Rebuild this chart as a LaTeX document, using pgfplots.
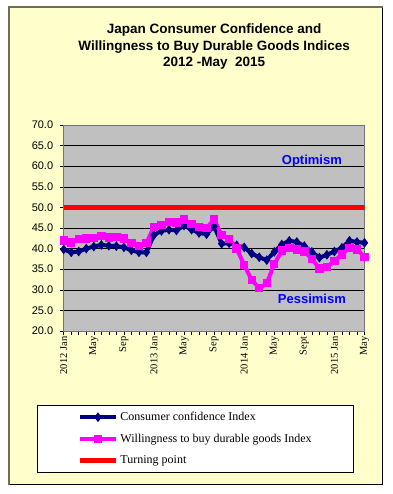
\documentclass[border=0pt]{standalone}
\usepackage{fontspec}
\setmainfont{Liberation Sans}
\newfontfamily\timesf{Liberation Serif}
\usepackage{pgfplots}
\usepackage{pgfplotstable}
\pgfplotsset{compat=1.18}
\definecolor{bgyel}{HTML}{FFFFCC}
\definecolor{plotgray}{HTML}{C0C0C0}
\definecolor{frameol}{HTML}{6E6E50}
\definecolor{navyc}{HTML}{000080}
\definecolor{magc}{HTML}{FF00FF}
\definecolor{txtblue}{HTML}{0000FF}

\pgfplotstableread{
x cc wb
0 39.8 42.0
1 39.1 41.5
2 39.3 42.3
3 40.0 42.5
4 40.5 42.6
5 40.9 43.0
6 40.7 42.7
7 40.6 42.8
8 40.3 42.5
9 39.6 41.4
10 39.1 40.7
11 39.1 41.3
12 43.3 45.3
13 44.3 45.7
14 44.6 46.4
15 44.4 46.3
16 45.6 47.1
17 44.6 46.0
18 43.8 45.3
19 43.5 45.0
20 45.4 47.1
21 41.2 43.3
22 41.3 42.4
23 40.8 40.0
24 40.3 36.0
25 38.8 32.4
26 37.9 30.4
27 37.2 31.6
28 39.2 36.2
29 41.0 39.5
30 41.9 40.2
31 41.6 39.8
32 40.6 39.3
33 39.2 37.5
34 37.8 35.2
35 38.5 35.5
36 39.3 37.0
37 40.2 38.6
38 41.9 40.2
39 41.6 39.8
40 41.4 38.0
}\datatab

\begin{document}
\begin{tikzpicture}[x=1pt,y=1pt]
\path[use as bounding box] (0,0) rectangle (392,-494);
\fill[white] (0,0) rectangle (392,-494);
\fill[bgyel] (8.5,-7.5) rectangle (382.5,-484.5);
\draw[black, line width=1pt] (8.5,-484.5) -- (382.5,-484.5) -- (382.5,-7.5);
\draw[frameol, line width=2pt] (8.5,-484.5) -- (8.5,-7.5) -- (382.5,-7.5);
\begin{axis}[
  at={(63.7pt,-331pt)}, anchor=south west,
  width=300.8pt, height=206pt, scale only axis,
  xmin=0, xmax=40, ymin=20, ymax=70,
  axis background/.style={fill=plotgray},
  axis line style={draw=gray!90!black, line width=0.8pt},
  ymajorgrids, grid style={black, line width=0.6pt},
  xtick={0,4,...,40},
  minor xtick={0,...,40},
  xticklabels={2012 Jan,May,Sep,2013 Jan,May,Sep,2014 Jan,May,Sept,2015 Jan,May},
  x tick label style={rotate=90, anchor=east, font=\timesf\fontsize{10.5}{12}\selectfont, inner sep=1.5pt},
  ytick={20,25,...,70},
  y tick label style={font=\fontsize{11}{12}\selectfont, xshift=-3pt},
  yticklabel style={/pgf/number format/.cd, fixed, fixed zerofill, precision=1},
  /pgf/number format/assume math mode=true,
  xtick pos=left, ytick pos=left, tick align=outside,
  major tick length=4pt, minor tick length=4pt,
  tick style={black, line width=0.5pt},
  title={Japan Consumer Confidence and\\Willingness to Buy Durable Goods Indices\\2012 -May~ 2015},
  title style={align=center, font=\bfseries\fontsize{13.5}{16.5}\selectfont, at={(0.5,1)}, anchor=south, yshift=46pt},
  legend style={at={(-0.0878,-0.3592)}, anchor=north west, draw=black, fill=white,
    font=\timesf\fontsize{12}{14}\selectfont, inner xsep=40pt, inner ysep=5pt, row sep=8pt},
  legend cell align=left,
  legend image code/.code={\draw[#1, mark repeat=2, mark phase=2] plot coordinates {(0pt,0pt) (18pt,0pt) (36pt,0pt)};},
]
\addplot[navyc, line width=4pt, mark=diamond*, mark size=1.6pt, mark options={solid}] table[x=x,y=cc] {\datatab};
\addlegendentry{Consumer confidence Index}
\addplot[magc, line width=4pt, mark=square*, mark size=2.2pt, mark options={solid}] table[x=x,y=wb] {\datatab};
\addlegendentry{Willingness to buy durable goods Index}
\addplot[red, line width=5pt] coordinates {(0,50) (40,50)};
\addlegendentry{Turning point}
\node[font=\bfseries\fontsize{13}{15}\selectfont, text=txtblue] at (axis cs:33,61.3) {Optimism};
\node[font=\bfseries\fontsize{13}{15}\selectfont, text=txtblue] at (axis cs:33,27.9) {Pessimism};
\end{axis}
\end{tikzpicture}
\end{document}
